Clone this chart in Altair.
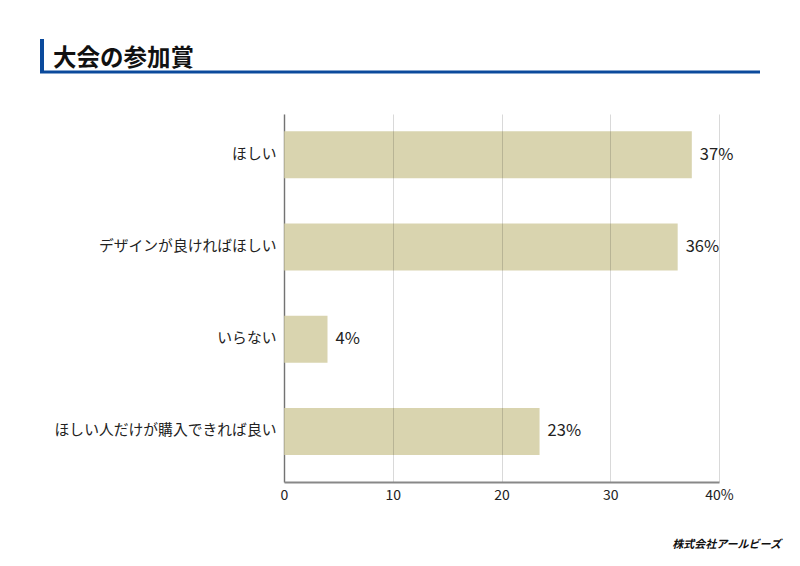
import altair as alt
import pandas as pd

categories = ["ほしい", "デザインが良ければほしい", "いらない", "ほしい人だけが購入できれば良い"]
values = [37.5, 36.2, 4.0, 23.5]
labels = ["37%", "36%", "4%", "23%"]
title_text = "大会の参加賞"
footer_text = "株式会社アールビーズ"

df = pd.DataFrame({"cat": categories, "val": values, "lab": labels})

FONT = "Noto Sans CJK JP"
BLUE = "#0b4a9c"

y_enc = alt.Y("cat:N", sort=categories, title=None,
              scale=alt.Scale(paddingInner=0.49, paddingOuter=0.24, align=0.39),
              axis=alt.Axis(labelFontSize=14.8, labelColor="#222", labelFont=FONT,
                            ticks=False, labelPadding=8, domainColor="#888",
                            domainWidth=1.5, labelLimit=300))
x_enc = alt.X("val:Q", title=None,
              scale=alt.Scale(domain=[0, 40], nice=False),
              axis=alt.Axis(values=[0, 10, 20, 30, 40], ticks=False,
                            labelExpr="datum.value == 40 ? '40%' : datum.label",
                            labelFontSize=14, labelColor="#222", labelFont=FONT,
                            labelPadding=6, domainColor="#888", domainWidth=2,
                            grid=True, gridColor="#000", gridOpacity=0.15,
                            zindex=1, labelFlush=False))

bars = alt.Chart(df).mark_bar(color="#d9d4af").encode(x=x_enc, y=y_enc)
texts = alt.Chart(df).mark_text(align="left", dx=8, fontSize=16.5, color="#222",
                                font=FONT).encode(
    x="val:Q", y=alt.Y("cat:N", sort=categories), text="lab:N")

deco_df = pd.DataFrame({"t": [title_text]})
title = alt.Chart(deco_df).mark_text(align="left", baseline="alphabetic",
                                     fontSize=23.5, fontWeight="bold", color="#111",
                                     font=FONT).encode(
    x=alt.value(-231), y=alt.value(-48), text="t:N")
vbar = alt.Chart(deco_df).mark_rule(color=BLUE, strokeWidth=4).encode(
    x=alt.value(-242), y=alt.value(-75), y2=alt.value(-41))
hline = alt.Chart(deco_df).mark_rule(color=BLUE, strokeWidth=3).encode(
    x=alt.value(-244), x2=alt.value(476), y=alt.value(-42))
foot_df = pd.DataFrame({"t": [footer_text]})
footer = alt.Chart(foot_df).mark_text(align="right", baseline="middle",
                                      fontSize=11, fontWeight="bold",
                                      fontStyle="italic", color="#111",
                                      font=FONT).encode(
    x=alt.value(497), y=alt.value(431), text="t:N")

chart = alt.layer(bars, texts, title, vbar, hline, footer).properties(
    width=435, height=368,
    padding={"left": 276, "top": 106, "right": 73, "bottom": 76},
    autosize=alt.AutoSizeParams(type="none"),
).configure_view(stroke=None)

chart.save("out.html", embed_options={"renderer": "svg", "actions": False})
